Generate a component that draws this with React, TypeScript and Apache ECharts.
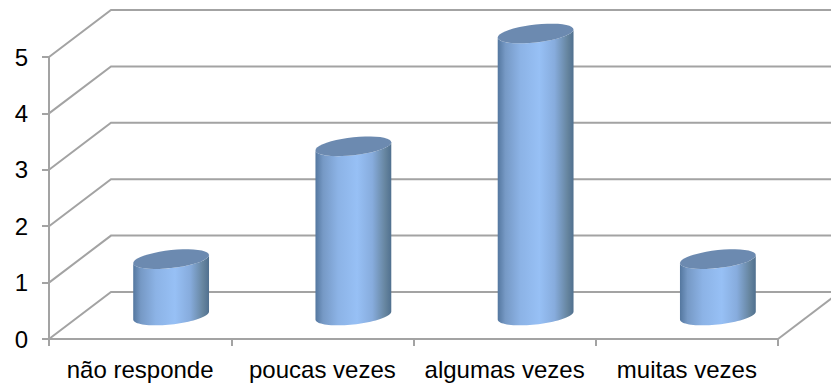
import React, { useEffect, useRef } from "react";
import * as echarts from "echarts";

const categories = ["não responde", "poucas vezes", "algumas vezes", "muitas vezes"];
const values = [1, 3, 5, 1];
const yTicks = [0, 1, 2, 3, 4, 5];

const DEPTH_X = 62;
const DEPTH_Y = 47;
const AXIS = "#a3a3a3";
const LINE_W = 2;
const FONT = '"Liberation Sans", Arial, sans-serif';

function ellipsePoints(cx: number, cy: number, rx: number, ry: number, tilt: number, from: number, to: number) {
  const pts: number[][] = [];
  const n = 40;
  for (let i = 0; i <= n; i++) {
    const t = from + ((to - from) * i) / n;
    pts.push([cx + rx * Math.cos(t), cy - tilt * Math.cos(t) + ry * Math.sin(t)]);
  }
  return pts;
}

const renderWall = (params: any, api: any) => {
  const v = api.value(1);
  const band = api.size([1, 0])[0];
  const a = api.coord([0, v]);
  const r = api.coord([categories.length - 1, v]);
  const left = a[0] - band / 2;
  const right = r[0] + band / 2;
  const y = a[1];
  const children: any[] = [
    {
      type: "polyline",
      shape: { points: [[left, y], [left + DEPTH_X, y - DEPTH_Y], [right + DEPTH_X, y - DEPTH_Y]] },
      style: { stroke: AXIS, lineWidth: LINE_W, fill: "none" },
    },
  ];
  if (v === 0) {
    children.push({
      type: "line",
      shape: { x1: right, y1: y, x2: right + DEPTH_X, y2: y - DEPTH_Y },
      style: { stroke: AXIS, lineWidth: LINE_W },
    });
  }
  return { type: "group", children };
};

const renderCylinder = (params: any, api: any) => {
  const band = api.size([1, 0])[0];
  const top = api.coord([api.value(0), api.value(1)]);
  const base = api.coord([api.value(0), 0]);
  const cx = top[0] + DEPTH_X / 2;
  const topY = top[1] - DEPTH_Y / 2;
  const baseY = base[1] - DEPTH_Y / 2;
  const rx = band * 0.208;
  const ry = 9;
  const tilt = 4;
  const body = [...ellipsePoints(cx, baseY, rx, ry, tilt, Math.PI, 0), ...ellipsePoints(cx, topY, rx, ry, tilt, 0, Math.PI)];
  return {
    type: "group",
    children: [
      {
        type: "polygon",
        shape: { points: body },
        style: {
          fill: new echarts.graphic.LinearGradient(0, 0, 1, 0, [
            { offset: 0, color: "#54779f" },
            { offset: 0.1, color: "#7699c5" },
            { offset: 0.3, color: "#8cb3e6" },
            { offset: 0.55, color: "#97c0f5" },
            { offset: 0.75, color: "#87acdd" },
            { offset: 0.92, color: "#66859f" },
            { offset: 1, color: "#50708f" },
          ]),
        },
      },
      {
        type: "polygon",
        shape: { points: ellipsePoints(cx, topY, rx, ry, tilt, 0, Math.PI * 2) },
        style: { fill: "#6c8ab0" },
      },
    ],
  };
};

export default function App() {
  const ref = useRef<HTMLDivElement>(null);
  useEffect(() => {
    document.body.style.margin = "0";
    const chart = echarts.init(ref.current!, undefined, { renderer: "svg" });
    chart.setOption({
      animation: false,
      backgroundColor: "#ffffff",
      grid: { left: 49, right: 53, top: 57, bottom: 44 },
      xAxis: {
        type: "category",
        data: categories,
        axisLine: { show: true, lineStyle: { color: AXIS, width: LINE_W } },
        axisTick: { show: true, length: 7, lineStyle: { color: AXIS, width: LINE_W } },
        axisLabel: { color: "#000000", fontFamily: FONT, fontSize: 24, margin: 18, interval: 0 },
      },
      yAxis: {
        type: "value",
        min: 0,
        max: 5,
        interval: 1,
        splitLine: { show: false },
        axisLine: { show: true, lineStyle: { color: AXIS, width: LINE_W } },
        axisTick: { show: true, length: 7, lineStyle: { color: AXIS, width: LINE_W } },
        axisLabel: { color: "#000000", fontFamily: FONT, fontSize: 24, margin: 21, padding: [6, 0, 0, 0], formatter: (v: number) => String(v) },
      },
      series: [
        {
          type: "custom",
          silent: true,
          z: 1,
          renderItem: renderWall,
          data: yTicks.map((v) => [0, v]),
          encode: { x: 0, y: 1 },
        },
        {
          type: "custom",
          silent: true,
          z: 2,
          renderItem: renderCylinder,
          data: values.map((v, i) => [i, v]),
          encode: { x: 0, y: 1 },
        },
      ],
    });
    return () => chart.dispose();
  }, []);
  return <div ref={ref} style={{ width: 831, height: 383 }} />;
}
